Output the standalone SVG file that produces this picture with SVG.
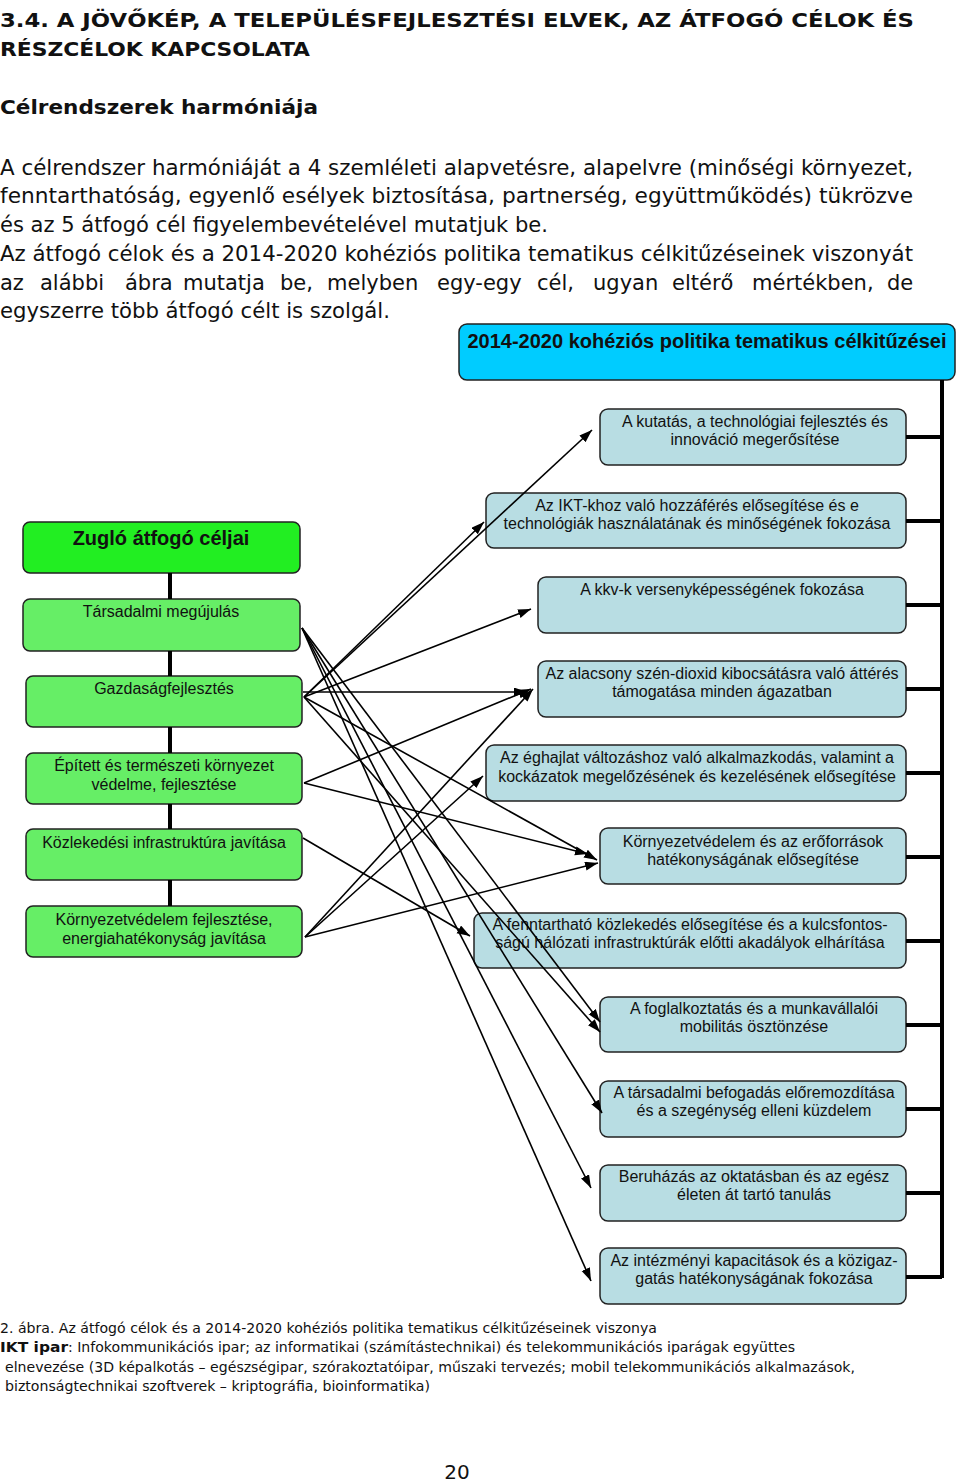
<svg xmlns="http://www.w3.org/2000/svg" width="960" height="1483" viewBox="0 0 960 1483">
<style>
.page{font-family:"DejaVu Sans","Liberation Sans",sans-serif;fill:#111}
.ttl{font-size:20px;font-weight:bold}
.body{font-size:21px}
.cap{font-size:14px}
.lbl{font-family:"Liberation Sans",Arial,sans-serif;font-size:16px;fill:#111;text-anchor:middle}
.hdrt{font-family:"Liberation Sans",Arial,sans-serif;font-size:20px;font-weight:bold;fill:#111;text-anchor:middle}
.zt{font-family:"Liberation Sans",Arial,sans-serif;font-size:20px;font-weight:bold;fill:#111;text-anchor:middle}
.hdr{fill:#00CCFF;stroke:#222;stroke-width:1.5}
.gtop{fill:#22EE22;stroke:#222;stroke-width:1.5}
.g{fill:#66EE66;stroke:#222;stroke-width:1.5}
.b{fill:#B8DDE3;stroke:#222;stroke-width:1.5}
.thick{stroke:#000;stroke-width:4;fill:none}
.arr{stroke:#000;stroke-width:1.6;fill:none;marker-end:url(#ah)}
</style>
<defs>
<marker id="ah" markerUnits="userSpaceOnUse" markerWidth="14" markerHeight="10" refX="13" refY="4.5" orient="auto">
<path d="M0,0 L13,4.5 L0,9 z" fill="#000"/>
</marker>
</defs>
<rect width="960" height="1483" fill="#fff"/>
<g id="page-text" class="page">
<text class="ttl" x="0" y="27" textLength="914" lengthAdjust="spacingAndGlyphs">3.4. A JÖVŐKÉP, A TELEPÜLÉSFEJLESZTÉSI ELVEK, AZ ÁTFOGÓ CÉLOK ÉS</text>
<text class="ttl" x="0" y="56" textLength="310" lengthAdjust="spacingAndGlyphs">RÉSZCÉLOK KAPCSOLATA</text>
<text class="ttl" x="0" y="114" textLength="318" lengthAdjust="spacingAndGlyphs">Célrendszerek harmóniája</text>
<text class="body" x="0" y="175" textLength="913" lengthAdjust="spacingAndGlyphs">A célrendszer harmóniáját a 4 szemléleti alapvetésre, alapelvre (minőségi környezet,</text>
<text class="body" x="0" y="203" textLength="913" lengthAdjust="spacingAndGlyphs">fenntarthatóság, egyenlő esélyek biztosítása, partnerség, együttműködés) tükrözve</text>
<text class="body" x="0" y="232" textLength="548" lengthAdjust="spacingAndGlyphs">és az 5 átfogó cél figyelembevételével mutatjuk be.</text>
<text class="body" x="0" y="261" textLength="913" lengthAdjust="spacingAndGlyphs">Az átfogó célok és a 2014-2020 kohéziós politika tematikus célkitűzéseinek viszonyát</text>
<text class="body" y="290"><tspan x="0">az</tspan><tspan x="40">alábbi</tspan><tspan x="125">ábra</tspan><tspan x="183">mutatja</tspan><tspan x="280">be,</tspan><tspan x="327">melyben</tspan><tspan x="437">egy-egy</tspan><tspan x="537">cél,</tspan><tspan x="593">ugyan</tspan><tspan x="672">eltérő</tspan><tspan x="752">mértékben,</tspan><tspan x="887">de</tspan></text>
<text class="body" x="0" y="318" textLength="390" lengthAdjust="spacingAndGlyphs">egyszerre több átfogó célt is szolgál.</text>
<text class="cap" x="0" y="1333" textLength="657" lengthAdjust="spacingAndGlyphs">2. ábra. Az átfogó célok és a 2014-2020 kohéziós politika tematikus célkitűzéseinek viszonya</text>
<text class="cap" x="0" y="1352" font-weight="bold" textLength="68" lengthAdjust="spacingAndGlyphs">IKT ipar</text>
<text class="cap" x="68" y="1352" textLength="727" lengthAdjust="spacingAndGlyphs">: Infokommunikációs ipar; az informatikai (számítástechnikai) és telekommunikációs iparágak együttes</text>
<text class="cap" x="5" y="1372" textLength="850" lengthAdjust="spacingAndGlyphs">elnevezése (3D képalkotás – egészségipar, szórakoztatóipar, műszaki tervezés; mobil telekommunikációs alkalmazások,</text>
<text class="cap" x="5" y="1391" textLength="425" lengthAdjust="spacingAndGlyphs">biztonságtechnikai szoftverek – kriptográfia, bioinformatika)</text>
<text x="457" y="1479" font-size="20" text-anchor="middle">20</text>
</g>
<g id="header">
<rect class="hdr" x="459" y="324" width="496" height="56" rx="8"/>
<text class="hdrt" x="707" y="348">2014-2020 kohéziós politika tematikus célkitűzései</text>
</g>
<g id="zuglo">
<rect class="gtop" x="23" y="522" width="277" height="51" rx="7"/>
<text class="zt" x="161" y="545">Zugló átfogó céljai</text>
</g>
<g id="tarsadalmi">
<rect class="g" x="23" y="599" width="277" height="52" rx="7"/>
<text class="lbl" x="161" y="617">Társadalmi megújulás</text>
</g>
<g id="gazdasag">
<rect class="g" x="26" y="676" width="276" height="51" rx="7"/>
<text class="lbl" x="164" y="694">Gazdaságfejlesztés</text>
</g>
<g id="epitett">
<rect class="g" x="26" y="753" width="276" height="51" rx="7"/>
<text class="lbl" x="164" y="771">Épített és természeti környezet</text>
<text class="lbl" x="164" y="790">védelme, fejlesztése</text>
</g>
<g id="kozlekedes">
<rect class="g" x="26" y="829" width="276" height="51" rx="7"/>
<text class="lbl" x="164" y="848">Közlekedési infrastruktúra javítása</text>
</g>
<g id="kornyezet">
<rect class="g" x="26" y="906" width="276" height="51" rx="7"/>
<text class="lbl" x="164" y="925">Környezetvédelem fejlesztése,</text>
<text class="lbl" x="164" y="944">energiahatékonyság javítása</text>
</g>
<g id="t1">
<rect class="b" x="600" y="409" width="306" height="56" rx="8"/>
<text class="lbl" x="755" y="427">A kutatás, a technológiai fejlesztés és</text>
<text class="lbl" x="755" y="445">innováció megerősítése</text>
</g>
<g id="t2">
<rect class="b" x="486" y="493" width="420" height="55" rx="8"/>
<text class="lbl" x="697" y="511">Az IKT-khoz való hozzáférés elősegítése és e</text>
<text class="lbl" x="697" y="529">technológiák használatának és minőségének fokozása</text>
</g>
<g id="t3">
<rect class="b" x="538" y="577" width="368" height="56" rx="8"/>
<text class="lbl" x="722" y="595">A kkv-k versenyképességének fokozása</text>
</g>
<g id="t4">
<rect class="b" x="538" y="661" width="368" height="56" rx="8"/>
<text class="lbl" x="722" y="679">Az alacsony szén-dioxid kibocsátásra való áttérés</text>
<text class="lbl" x="722" y="697">támogatása minden ágazatban</text>
</g>
<g id="t5">
<rect class="b" x="486" y="745" width="420" height="56" rx="8"/>
<text class="lbl" x="697" y="763">Az éghajlat változáshoz való alkalmazkodás, valamint a</text>
<text class="lbl" x="697" y="782">kockázatok megelőzésének és kezelésének elősegítése</text>
</g>
<g id="t6">
<rect class="b" x="600" y="828" width="306" height="56" rx="8"/>
<text class="lbl" x="753" y="847">Környezetvédelem és az erőforrások</text>
<text class="lbl" x="753" y="865">hatékonyságának elősegítése</text>
</g>
<g id="t7">
<rect class="b" x="474" y="913" width="432" height="55" rx="8"/>
<text class="lbl" x="690" y="930">A fenntartható közlekedés elősegítése és a kulcsfontos-</text>
<text class="lbl" x="690" y="948">ságú hálózati infrastruktúrák előtti akadályok elhárítása</text>
</g>
<g id="t8">
<rect class="b" x="600" y="997" width="306" height="55" rx="8"/>
<text class="lbl" x="754" y="1014">A foglalkoztatás és a munkavállalói</text>
<text class="lbl" x="754" y="1032">mobilitás ösztönzése</text>
</g>
<g id="t9">
<rect class="b" x="600" y="1081" width="306" height="56" rx="8"/>
<text class="lbl" x="754" y="1098">A társadalmi befogadás előremozdítása</text>
<text class="lbl" x="754" y="1116">és a szegénység elleni küzdelem</text>
</g>
<g id="t10">
<rect class="b" x="600" y="1165" width="306" height="56" rx="8"/>
<text class="lbl" x="754" y="1182">Beruházás az oktatásban és az egész</text>
<text class="lbl" x="754" y="1200">életen át tartó tanulás</text>
</g>
<g id="t11">
<rect class="b" x="600" y="1248" width="306" height="56" rx="8"/>
<text class="lbl" x="754" y="1266">Az intézményi kapacitások és a közigaz-</text>
<text class="lbl" x="754" y="1284">gatás hatékonyságának fokozása</text>
</g>
<g id="connectors">
<path class="thick" d="M942,380 V1278 M906,437 H942 M906,521 H942 M906,605 H942 M906,689 H942 M906,773 H942 M906,857 H942 M906,941 H942 M906,1025 H942 M906,1109 H942 M906,1193 H942 M906,1277 H942"/>
<path class="thick" d="M170,573 V599 M170,651 V676 M170,727 V753 M170,804 V829 M170,880 V906"/>
<line class="arr" x1="304" y1="697" x2="592" y2="430"/>
<line class="arr" x1="304" y1="697" x2="484" y2="522"/>
<line class="arr" x1="304" y1="697" x2="531" y2="609"/>
<line class="arr" x1="303" y1="692" x2="527" y2="692"/>
<line class="arr" x1="304" y1="697" x2="597" y2="860"/>
<line class="arr" x1="304" y1="697" x2="600" y2="1032"/>
<line class="arr" x1="304" y1="783" x2="531" y2="689"/>
<line class="arr" x1="304" y1="783" x2="588" y2="854"/>
<line class="arr" x1="303" y1="838" x2="470" y2="936"/>
<line class="arr" x1="305" y1="937" x2="533" y2="689"/>
<line class="arr" x1="305" y1="937" x2="483" y2="776"/>
<line class="arr" x1="305" y1="937" x2="598" y2="863"/>
<line class="arr" x1="302" y1="628" x2="600" y2="1022"/>
<line class="arr" x1="302" y1="628" x2="602" y2="1113"/>
<line class="arr" x1="302" y1="628" x2="591" y2="1188"/>
<line class="arr" x1="302" y1="628" x2="591" y2="1281"/>
</g>
</svg>
